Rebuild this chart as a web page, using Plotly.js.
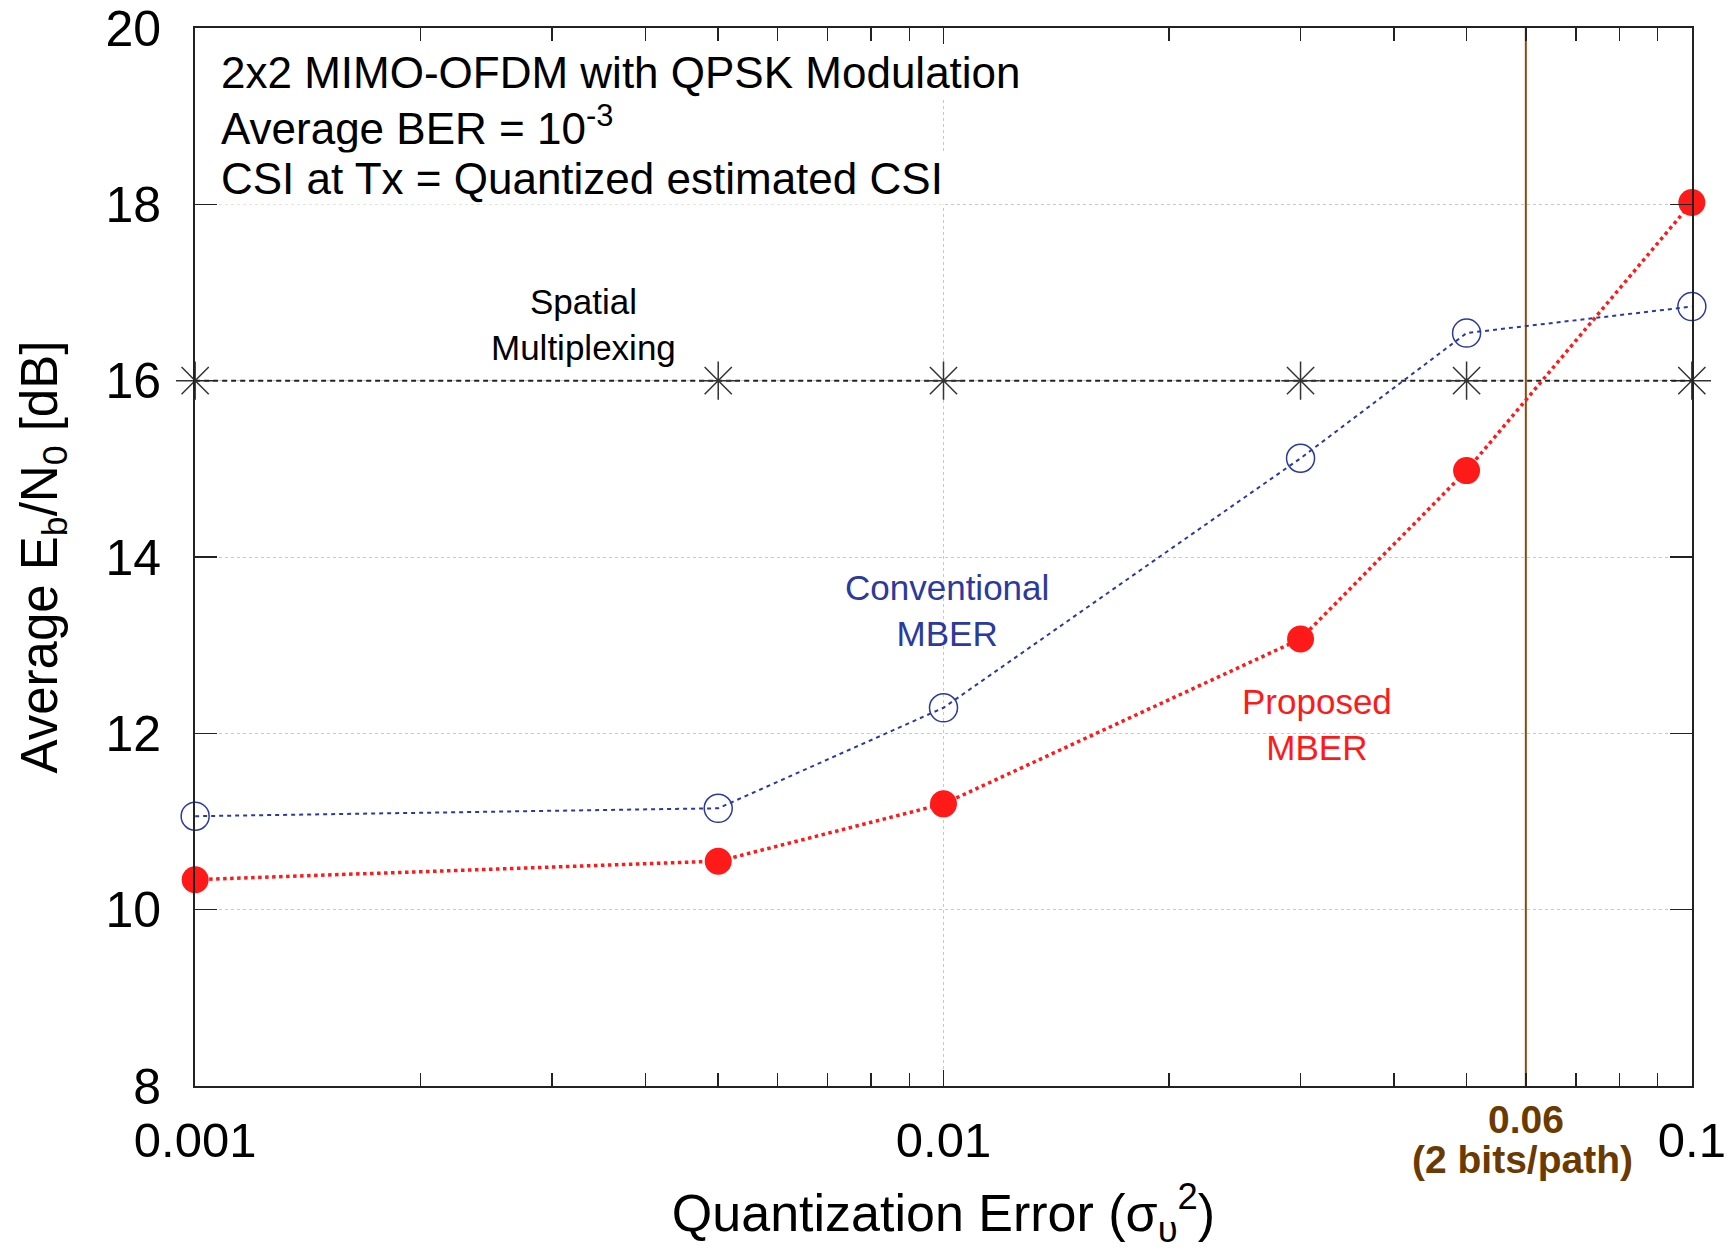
<!DOCTYPE html>
<html>
<head>
<meta charset="utf-8">
<script src="https://cdn.plot.ly/plotly-3.0.1.min.js"></script>
<style>html,body{margin:0;padding:0;background:#fff;}#chart{width:1734px;height:1250px;}</style>
</head>
<body>
<div id="chart"></div>
<script>
// Data
const quantErr   = [0.001, 0.005, 0.01, 0.03, 0.05, 0.1];
const spatialMux = [16, 16, 16, 16, 16, 16];
const convMBER   = [11.06, 11.15, 12.29, 15.12, 16.54, 16.84];
const propMBER   = [10.34, 10.55, 11.20, 13.07, 14.98, 18.02];
const markerX    = [0.06, 0.06];
const markerY    = [8, 20];
const xTickVals  = [0.001, 0.01, 0.1];
const xTickText  = ['0.001', '0.01', '0.1'];
const yTickVals  = [8, 10, 12, 14, 16, 18, 20];

const FONT = 'Liberation Sans, Arial, Helvetica, sans-serif';
const brown = '#6b3a00';

const traces = [
  {
    x: markerX, y: markerY, mode: 'lines', type: 'scatter',
    line: {color: '#8a4a12', width: 2}, hoverinfo: 'skip', showlegend: false
  },
  {
    x: quantErr, y: spatialMux, mode: 'lines+markers', type: 'scatter', name: 'Spatial Multiplexing',
    line: {color: '#222', width: 2, dash: '5px,4px'},
    marker: {symbol: 'asterisk-open', size: 32, color: '#333', line: {color: '#333', width: 1.5}},
    cliponaxis: false
  },
  {
    x: quantErr, y: convMBER, mode: 'lines+markers', type: 'scatter', name: 'Conventional MBER',
    line: {color: '#2b3a9c', width: 2, dash: '4px,4px'},
    marker: {symbol: 'circle-open', size: 28, color: '#2b3a9c', line: {color: '#2b3a9c', width: 1.5}},
    cliponaxis: false
  },
  {
    x: quantErr, y: propMBER, mode: 'lines+markers', type: 'scatter', name: 'Proposed MBER',
    line: {color: '#ff1a1a', width: 3.5, dash: 'dot'},
    marker: {symbol: 'circle', size: 27, color: '#ff1a1a'},
    cliponaxis: false
  }
];

const lx = Math.log10;
const annotations = [
  {xref: 'paper', yref: 'y', x: 0.016, y: 19.49, xanchor: 'left', yanchor: 'middle', showarrow: false,
   text: '2x2 MIMO-OFDM with QPSK Modulation', bgcolor: 'white', font: {size: 44, color: '#000', family: FONT}},
  {xref: 'paper', yref: 'y', x: 0.016, y: 18.89, xanchor: 'left', yanchor: 'middle', showarrow: false,
   text: 'Average BER = 10<sup>-3</sup>', bgcolor: 'white', font: {size: 44, color: '#000', family: FONT}},
  {xref: 'paper', yref: 'y', x: 0.016, y: 18.29, xanchor: 'left', yanchor: 'middle', showarrow: false,
   text: 'CSI at Tx = Quantized estimated CSI', bgcolor: 'white', font: {size: 44, color: '#000', family: FONT}},
  {xref: 'x', yref: 'y', x: lx(0.0033), y: 16.64, showarrow: false,
   text: 'Spatial<br>Multiplexing', font: {size: 35, color: '#000', family: FONT}},
  {xref: 'x', yref: 'y', x: lx(0.0101), y: 13.39, showarrow: false,
   text: 'Conventional<br>MBER', font: {size: 35, color: '#2b3a9c', family: FONT}},
  {xref: 'x', yref: 'y', x: lx(0.0316), y: 12.1, showarrow: false,
   text: 'Proposed<br>MBER', font: {size: 35, color: '#ff1a1a', family: FONT}},
  {xref: 'x', yref: 'paper', x: lx(0.06), y: -0.032, showarrow: false, yanchor: 'middle',
   text: '<b>0.06</b>', font: {size: 39, color: brown, family: FONT}},
  {xref: 'x', yref: 'paper', x: lx(0.06) - 0.004, y: -0.069, showarrow: false, yanchor: 'middle',
   text: '<b>(2 bits/path)</b>', font: {size: 39, color: brown, family: FONT}}
];

const layout = {
  width: 1734, height: 1250,
  margin: {l: 195, r: 42, t: 28, b: 164},
  paper_bgcolor: 'white', plot_bgcolor: 'white',
  showlegend: false,
  font: {family: FONT, color: '#000'},
  xaxis: {
    type: 'log', range: [-3.0002, -0.9998],
    tickvals: xTickVals, ticktext: xTickText,
    ticks: 'inside', ticklen: 16, tickwidth: 1.5, tickcolor: '#222',
    tickfont: {size: 49, family: FONT, color: '#000'},
    ticklabelstandoff: 10,
    showline: true, linecolor: '#222', linewidth: 2, mirror: 'allticks',
    showgrid: true, gridcolor: '#c8c8c8', griddash: 'dot', gridwidth: 1,
    zeroline: false,
    minor: {dtick: 'D1', ticks: 'inside', ticklen: 13, tickwidth: 1.5, tickcolor: '#222', showgrid: false},
    title: {text: 'Quantization Error (σ<sub>υ</sub><sup>2</sup>)', font: {size: 52, family: FONT, color: '#000'}, standoff: 33}
  },
  yaxis: {
    range: [8, 20], tickvals: yTickVals,
    ticks: 'inside', ticklen: 22, tickwidth: 1.5, tickcolor: '#222',
    tickfont: {size: 50, family: FONT, color: '#000'},
    ticklabelstandoff: 22,
    showline: true, linecolor: '#222', linewidth: 2, mirror: 'allticks',
    showgrid: true, gridcolor: '#c8c8c8', griddash: 'dot', gridwidth: 1,
    zeroline: false,
    title: {text: 'Average E<sub>b</sub>/N<sub>0</sub> [dB]', font: {size: 51, family: FONT, color: '#000'}, standoff: 32}
  },
  annotations: annotations
};

Plotly.newPlot('chart', traces, layout, {displayModeBar: false, staticPlot: true});
</script>
</body>
</html>
